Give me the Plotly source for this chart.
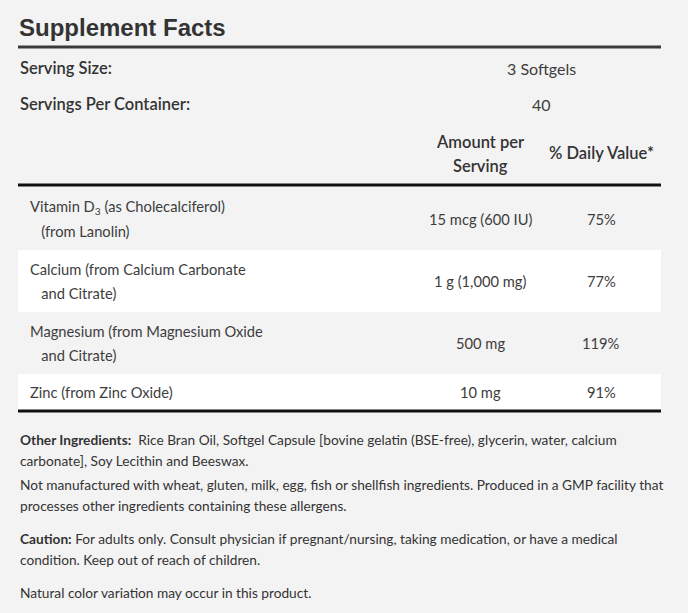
import plotly.graph_objects as go

# %%
title = "Supplement Facts"
serving_labels = ["Serving Size:", "Servings Per Container:"]
serving_values = ["3 Softgels", "40"]

nutrient_lines = [
    ["Vitamin D<sub>3</sub> (as Cholecalciferol)", "  (from Lanolin)"],
    ["Calcium (from Calcium Carbonate", "  and Citrate)"],
    ["Magnesium (from Magnesium Oxide", "  and Citrate)"],
    ["Zinc (from Zinc Oxide)"],
]
amounts = ["15 mcg (600 IU)", "1 g (1,000 mg)", "500 mg", "10 mg"]
daily_values = ["75%", "77%", "119%", "91%"]

footnotes = [
    ["<b>Other Ingredients:</b>  Rice Bran Oil, Softgel Capsule [bovine gelatin (BSE-free), glycerin, water, calcium",
     "carbonate], Soy Lecithin and Beeswax."],
    ["Not manufactured with wheat, gluten, milk, egg, fish or shellfish ingredients. Produced in a GMP facility that",
     "processes other ingredients containing these allergens."],
    ["<b>Caution:</b> For adults only. Consult physician if pregnant/nursing, taking medication, or have a medical",
     "condition. Keep out of reach of children."],
    ["Natural color variation may occur in this product."],
]

# %%
W, H = 688, 613
BG = "#f3f3f3"
TXT = "#333333"
ROW_TXT = "#3d3d3d"
FONT = "Lato"
X0, X1 = 18, 661
AMT_X, DV_X = 480, 601

fig = go.Figure()
shapes = []
ann = []

def text(x, y, s, size=14, anchor="left", color=TXT, family=FONT, weight=None):
    f = dict(size=size, color=color, family=family)
    if weight:
        f["weight"] = weight
    ann.append(dict(x=x, y=y, text=s, showarrow=False, xanchor=anchor,
                    yanchor="middle", font=f, xref="x", yref="y"))

def rule(y, width, color):
    shapes.append(dict(type="line", x0=X0, x1=X1, y0=y, y1=y, xref="x", yref="y",
                       line=dict(color=color, width=width)))

# title
text(X0 - 1, 27, title, size=24, family="Liberation Sans", weight="bold")
rule(47, 3, "#3a3a3a")

# serving info
for i, (lab, val) in enumerate(zip(serving_labels, serving_values)):
    y = 68 + i * 36
    text(X0, y, lab, size=16.5, weight=600)
    text(541, y, val, size=16, anchor="center", color=ROW_TXT)

# column headers
text(AMT_X, 142, "Amount per", size=16.5, anchor="center", weight=600)
text(AMT_X, 166, "Serving", size=16.5, anchor="center", weight=600)
text(DV_X, 153, "% Daily Value*", size=16.5, anchor="center", weight=600)
rule(185, 3, "#111111")

# nutrient rows
top = 188
for i, lines in enumerate(nutrient_lines):
    h = 12 + 25 * len(lines) if len(lines) > 1 else 36
    if i % 2 == 1:
        shapes.append(dict(type="rect", x0=X0, x1=X1, y0=top, y1=top + h,
                           xref="x", yref="y", fillcolor="white", line=dict(width=0),
                           layer="below"))
    mid = top + h / 2
    for j, ln in enumerate(lines):
        y = mid + (j - (len(lines) - 1) / 2) * 24
        text(28, y, ln.replace("  ", "&nbsp;&nbsp;&nbsp;"), size=14.7, color=ROW_TXT)
    text(AMT_X, mid, amounts[i], size=14.7, anchor="center", color=ROW_TXT)
    text(DV_X, mid, daily_values[i], size=14.7, anchor="center", color=ROW_TXT)
    top += h
rule(top + 1, 3, "#111111")

# footnotes
y = 439
for k, block in enumerate(footnotes):
    for ln in block:
        text(X0, y, ln, size=13.7)
        y += 21
    y += 3 if k == 0 else 12

fig.update_layout(
    width=W, height=H,
    margin=dict(l=0, r=0, t=0, b=0),
    paper_bgcolor=BG, plot_bgcolor=BG,
    xaxis=dict(range=[0, W], visible=False, fixedrange=True),
    yaxis=dict(range=[H, 0], visible=False, fixedrange=True),
    shapes=shapes, annotations=ann,
    showlegend=False,
)
fig.write_html("out.html", config={"displayModeBar": False},
               post_script="document.body.style.margin='0';document.body.style.background='#f3f3f3';")
